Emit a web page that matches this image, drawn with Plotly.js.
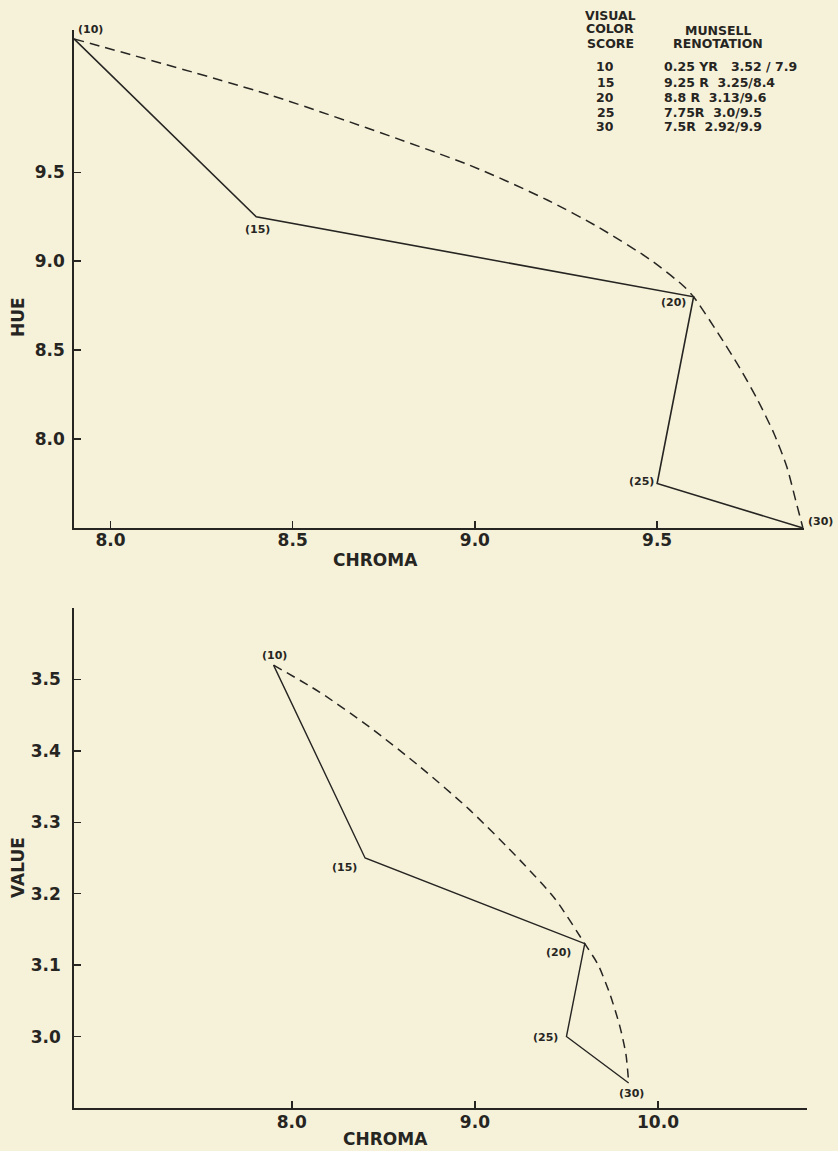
<!DOCTYPE html>
<html>
<head>
<meta charset="utf-8">
<script src="https://cdn.plot.ly/plotly-3.0.1.min.js"></script>
<style>html,body{margin:0;padding:0;background:#f6f2da;}#chart{width:838px;height:1151px;}</style>
</head>
<body>
<div id="chart"></div>
<script>
// ---- data ----
const scoreLabels = ['(10)', '(15)', '(20)', '(25)', '(30)'];
// top panel: chroma vs hue
const hueChroma = [7.9, 8.4, 9.6, 9.5, 9.9];
const hueValues = [10.25, 9.25, 8.8, 7.75, 7.5];
// dashed envelope, top panel
const hueCurveChroma = [7.9, 8.44, 8.985, 9.2, 9.34, 9.48, 9.57, 9.6, 9.667, 9.727, 9.776, 9.82, 9.856, 9.88, 9.9];
const hueCurveHue    = [10.25, 9.933, 9.54, 9.343, 9.19, 9.01, 8.865, 8.8, 8.596, 8.399, 8.219, 8.034, 7.843, 7.657, 7.5];
// bottom panel: chroma vs value
const valChroma = [7.9, 8.4, 9.6, 9.5, 9.84];
const valValues = [3.52, 3.25, 3.13, 3.0, 2.935];
const valCurveChroma = [7.9, 8.153, 8.426, 8.699, 8.973, 9.246, 9.437, 9.6, 9.672, 9.738, 9.792, 9.825, 9.84];
const valCurveValue  = [3.52, 3.482, 3.433, 3.378, 3.317, 3.247, 3.193, 3.13, 3.101, 3.059, 3.014, 2.975, 2.935];
// table
const tableScores = ['10', '15', '20', '25', '30'];
const tableRenotations = ['0.25 YR   3.52 / 7.9', '9.25 R  3.25/8.4', '8.8 R  3.13/9.6', '7.75R  3.0/9.5', '7.5R  2.92/9.9'];
// tick labels
const hueXTicks = [8.0, 8.5, 9.0, 9.5];
const hueYTicks = [8.0, 8.5, 9.0, 9.5];
const valXTicks = [8.0, 9.0, 10.0];
const valYTicks = [3.0, 3.1, 3.2, 3.3, 3.4, 3.5];

// ---- styling ----
const W = 838, H = 1151;
const ink = '#262522';
const bg = '#f6f2da';
const FONT = '"DejaVu Sans", Lato, sans-serif';
const px = x => x / W;
const py = y => 1 - y / H;

const traces = [
  {x: hueChroma, y: hueValues, xaxis: 'x', yaxis: 'y', mode: 'lines',
   line: {color: ink, width: 1.6}, hoverinfo: 'skip'},
  {x: hueCurveChroma, y: hueCurveHue, xaxis: 'x', yaxis: 'y', mode: 'lines',
   line: {color: ink, width: 1.5, dash: '10px,6px', shape: 'spline', smoothing: 0.7}, hoverinfo: 'skip'},
  {x: valChroma, y: valValues, xaxis: 'x2', yaxis: 'y2', mode: 'lines',
   line: {color: ink, width: 1.4}, hoverinfo: 'skip'},
  {x: valCurveChroma, y: valCurveValue, xaxis: 'x2', yaxis: 'y2', mode: 'lines',
   line: {color: ink, width: 1.5, dash: '9px,6px', shape: 'spline', smoothing: 0.7}, hoverinfo: 'skip'}
];

const axisBase = {
  showgrid: false, zeroline: false, showline: true, linecolor: ink, linewidth: 1.8,
  ticks: 'inside', ticklen: 7, tickwidth: 1.5, tickcolor: ink,
  tickfont: {family: FONT, size: 17, color: ink, weight: 'bold'},
  fixedrange: true
};

const ann = [];
const lblFont = {family: FONT, size: 11, color: ink, weight: 'bold'};
const topOff = [[2, 9, 'left'], [1, -13, 'center'], [-6, -6, 'right'], [-1, 2, 'right'], [3, 7, 'left']];
const botOff = [[1, 10, 'center'], [-6, -9, 'right'], [-12, -9, 'right'], [-6, -1, 'right'], [3, -10, 'center']];
scoreLabels.forEach((t, i) => {
  ann.push({x: hueChroma[i], y: hueValues[i], xref: 'x', yref: 'y', text: t, showarrow: false,
    xanchor: topOff[i][2], yanchor: 'middle', xshift: topOff[i][0], yshift: topOff[i][1], font: lblFont});
  ann.push({x: valChroma[i], y: valValues[i], xref: 'x2', yref: 'y2', text: t, showarrow: false,
    xanchor: botOff[i][2], yanchor: 'middle', xshift: botOff[i][0], yshift: botOff[i][1], font: lblFont});
});
// axis titles
const titleFont = {family: FONT, size: 17, color: ink, weight: 'bold'};
ann.push({x: px(375), y: py(560), xref: 'paper', yref: 'paper', text: 'CHROMA', showarrow: false, xanchor: 'center', yanchor: 'middle', font: titleFont});
ann.push({x: px(18), y: py(317), xref: 'paper', yref: 'paper', text: 'HUE', showarrow: false, textangle: -90, xanchor: 'center', yanchor: 'middle', font: titleFont});
ann.push({x: px(385), y: py(1150), xref: 'paper', yref: 'paper', text: 'CHROMA', showarrow: false, xanchor: 'center', yanchor: 'bottom', font: titleFont, borderpad: 0});
ann.push({x: px(18), y: py(868), xref: 'paper', yref: 'paper', text: 'VALUE', showarrow: false, textangle: -90, xanchor: 'center', yanchor: 'middle', font: titleFont});
// table
const tFont = {family: FONT, size: 12.5, color: ink, weight: 'bold'};
const cell = (t, x, y, anchor) => ({x: px(x), y: py(y), xref: 'paper', yref: 'paper', text: t, showarrow: false,
  xanchor: anchor, yanchor: 'middle', font: tFont, height: 13, borderpad: 0});
[['VISUAL', 15], ['COLOR', 29], ['SCORE', 43]].forEach(([t, y]) => ann.push(cell(t, 610, y, 'center')));
[['MUNSELL', 30], ['RENOTATION', 44]].forEach(([t, y]) => ann.push(cell(t, 718, y, 'center')));
tableScores.forEach((s, i) => {
  const y = 67 + i * 15;
  ann.push(cell(s, 605, y, 'center'));
  ann.push(cell(tableRenotations[i], 663, y, 'left'));
});

const layout = {
  width: W, height: H, margin: {l: 0, r: 0, t: 0, b: 0},
  paper_bgcolor: bg, plot_bgcolor: bg, showlegend: false,
  xaxis: Object.assign({}, axisBase, {domain: [px(74), px(804)], range: [7.9, 9.903], anchor: 'y',
    tickvals: hueXTicks, ticktext: hueXTicks.map(v => v.toFixed(1)), ticklabelstandoff: -4}),
  yaxis: Object.assign({}, axisBase, {domain: [py(528), py(30)], range: [7.5, 10.3], anchor: 'x',
    tickvals: hueYTicks, ticktext: hueYTicks.map(v => v.toFixed(1)), ticklabelstandoff: 4}),
  xaxis2: Object.assign({}, axisBase, {domain: [px(74), px(807)], range: [6.81, 10.814], anchor: 'y2',
    tickvals: valXTicks, ticktext: valXTicks.map(v => v.toFixed(1)), ticklabelstandoff: -2}),
  yaxis2: Object.assign({}, axisBase, {domain: [py(1108), py(608)], range: [2.9, 3.6], anchor: 'x2',
    tickvals: valYTicks, ticktext: valYTicks.map(v => v.toFixed(1)), ticklabelstandoff: 8}),
  annotations: ann
};

Plotly.newPlot('chart', traces, layout, {staticPlot: true, displayModeBar: false});
</script>
</body>
</html>
